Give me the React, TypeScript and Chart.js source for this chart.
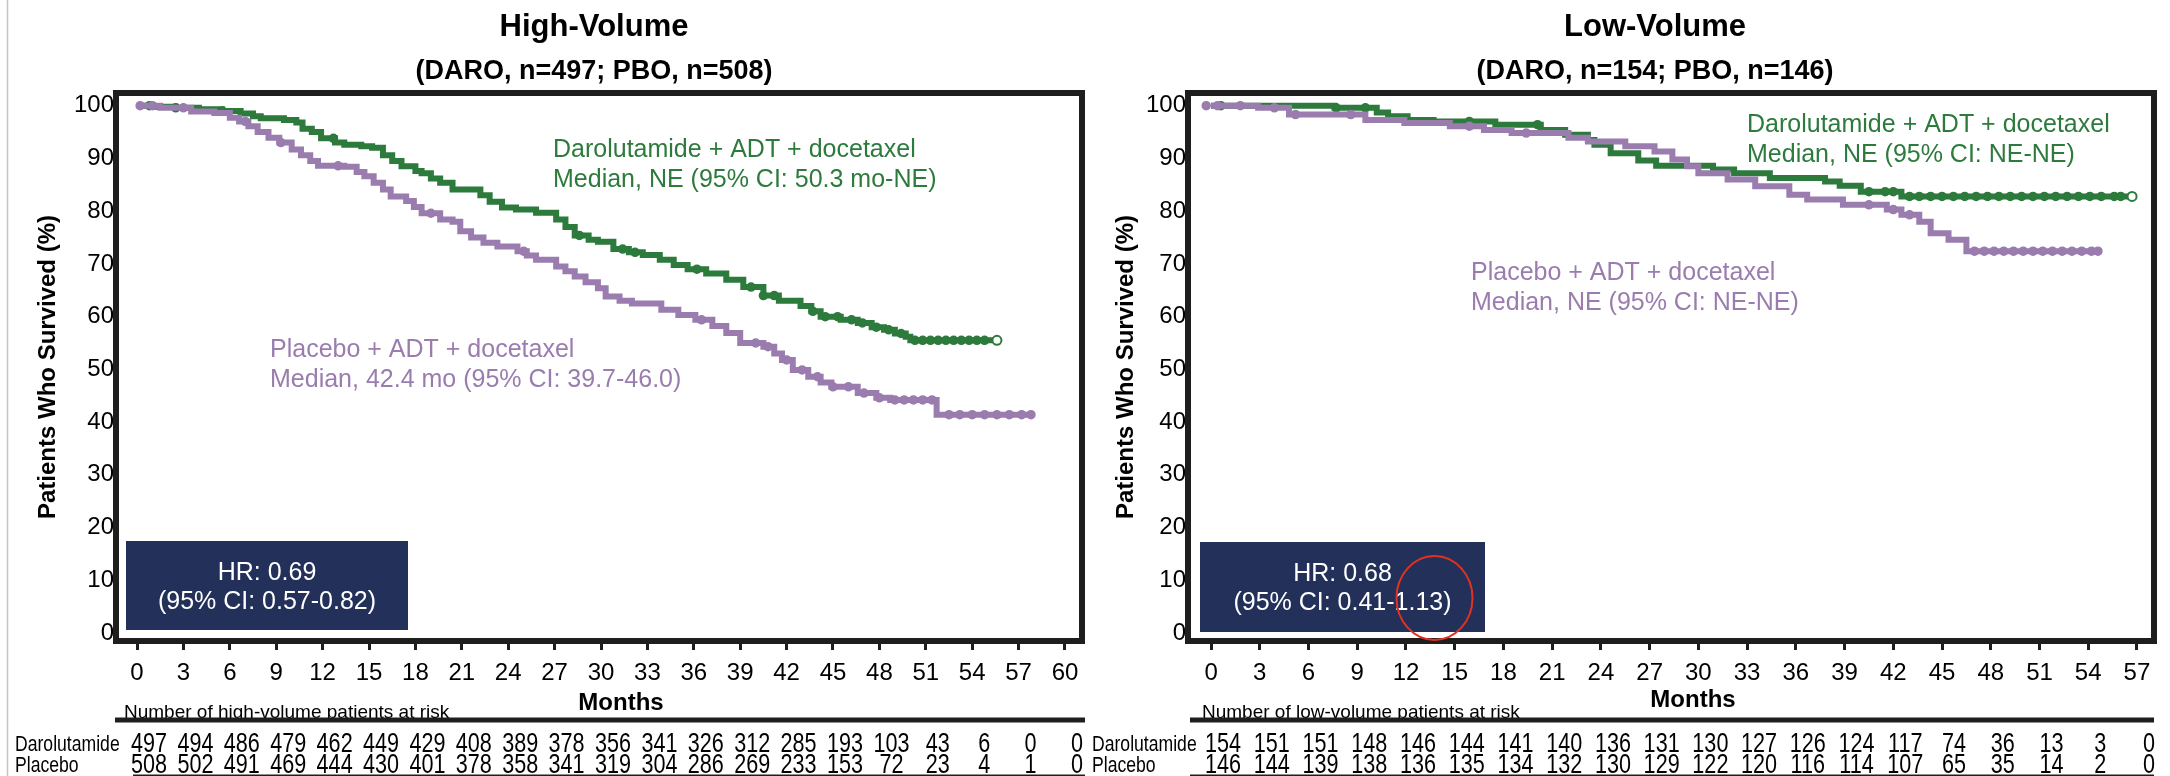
import React, { useEffect, useRef } from 'react';
import { Chart, registerables } from 'chart.js';

Chart.register(...registerables);

// ---------- DATA ----------
const hvMonthTicks = [0, 3, 6, 9, 12, 15, 18, 21, 24, 27, 30, 33, 36, 39, 42, 45, 48, 51, 54, 57, 60];
const lvMonthTicks = [0, 3, 6, 9, 12, 15, 18, 21, 24, 27, 30, 33, 36, 39, 42, 45, 48, 51, 54, 57];
const survivalTicks = [0, 10, 20, 30, 40, 50, 60, 70, 80, 90, 100];

// High-volume, darolutamide (KM step breakpoints: month, % surviving)
const hvDaroMonths = [0, 1.0, 2.5, 4.0, 5.5, 6.7, 7.5, 8.0, 9.5, 10.3, 10.7, 11.3, 11.9, 12.8, 13.4, 14.5, 15.2, 15.9, 16.5, 17.1, 18.0, 18.4, 19.0, 19.6, 20.4, 22.2, 22.8, 23.6, 24.5, 25.8, 27.1, 27.7, 28.3, 29.2, 29.8, 30.8, 31.8, 32.7, 33.8, 34.7, 35.6, 36.8, 38.1, 39.2, 40.5, 41.5, 42.9, 43.6, 44.2, 45.5, 46.6, 47.5, 48.3, 49.0, 49.7, 50.0, 55.6];
const hvDaroSurv = [100, 99.8, 99.6, 99.3, 99.0, 98.5, 98.0, 97.6, 97.3, 96.8, 95.6, 95.0, 93.8, 93.0, 92.6, 92.3, 92.0, 90.6, 89.5, 88.5, 87.6, 87.2, 86.2, 85.4, 84.1, 83.0, 81.8, 80.7, 80.3, 79.7, 78.4, 77.0, 75.4, 74.6, 74.2, 72.8, 72.2, 71.7, 70.8, 69.8, 69.0, 68.2, 67.0, 65.6, 64.0, 63.0, 62.0, 61.0, 60.0, 59.4, 58.8, 58.0, 57.5, 56.8, 56.2, 55.5, 55.5];
const hvDaroCensored = [0.8, 2.5, 5.5, 12.7, 28.6, 31.4, 32.2, 36.2, 39.7, 40.5, 41.2, 43.7, 44.5, 45.3, 46.2, 46.9, 47.8, 48.6, 49.4, 50.3, 50.8, 51.3, 51.8, 52.3, 52.8, 53.3, 53.8, 54.3, 54.8];

// High-volume, placebo
const hvPboMonths = [0, 1.5, 3.5, 5.0, 6.0, 6.6, 7.2, 7.8, 8.5, 9.2, 10.0, 10.6, 11.2, 11.7, 13.4, 14.2, 14.7, 15.3, 15.9, 16.4, 17.4, 17.9, 18.4, 19.6, 20.4, 20.9, 21.6, 22.4, 23.3, 24.6, 25.2, 25.8, 27.1, 27.7, 28.3, 29.0, 29.8, 30.3, 31.2, 32.0, 33.9, 35.0, 36.1, 37.2, 38.1, 39.0, 40.5, 41.2, 41.7, 42.4, 43.4, 44.2, 44.9, 46.6, 47.8, 48.7, 51.7, 57.8];
const hvPboSurv = [100, 99.6, 98.9, 98.6, 97.7, 97.0, 96.1, 95.0, 93.9, 93.0, 91.7, 90.6, 89.5, 88.6, 88.4, 87.4, 86.6, 85.4, 84.1, 82.8, 81.9, 80.8, 79.6, 78.4, 78.0, 76.2, 75.0, 74.0, 73.3, 72.4, 71.6, 70.8, 69.5, 68.6, 67.6, 66.5, 65.4, 63.8, 63.0, 62.5, 61.3, 60.3, 59.4, 58.2, 56.9, 55.0, 54.3, 53.0, 51.8, 49.9, 48.6, 47.5, 46.7, 45.5, 44.6, 44.2, 41.4, 41.4];
const hvPboCensored = [0.2, 1.0, 3.0, 7.0, 9.3, 13.0, 19.0, 25.0, 36.5, 40.0, 40.8, 42.0, 43.0, 44.0, 45.0, 46.0, 47.0, 48.0, 49.0, 49.6, 50.2, 50.8, 51.4, 52.5, 53.2, 54.0, 54.8, 55.6, 56.4, 57.2, 57.8];

// Low-volume, darolutamide
const lvDaroMonths = [0, 7.6, 10.2, 10.9, 12.1, 13.7, 17.5, 20.3, 21.8, 23.2, 23.6, 24.6, 26.3, 27.4, 30.9, 32.2, 34.4, 37.8, 38.7, 40.0, 42.5, 56.7];
const lvDaroSurv = [100, 99.6, 98.7, 98.0, 97.3, 97.0, 96.4, 95.4, 94.5, 93.5, 92.6, 91.0, 89.6, 88.6, 87.9, 87.2, 86.3, 85.6, 84.8, 83.7, 82.8, 82.8];
const lvDaroCensored = [0.6, 7.7, 9.5, 15.9, 20.1, 40.5, 41.5, 42.0, 43.0, 43.6, 44.3, 45.0, 45.7, 46.4, 47.1, 47.8, 48.5, 49.2, 49.9, 50.6, 51.3, 52.0, 52.7, 53.4, 54.1, 54.8, 55.6, 56.0];

// Low-volume, placebo
const lvPboMonths = [0, 2.9, 4.8, 9.5, 11.9, 14.7, 16.8, 18.5, 22.0, 23.2, 25.5, 27.3, 28.4, 29.3, 30.0, 31.8, 33.5, 35.6, 36.7, 38.9, 41.6, 42.5, 43.6, 44.3, 45.4, 46.5, 54.6];
const lvPboSurv = [100, 99.6, 98.3, 97.3, 96.7, 96.1, 95.4, 94.8, 93.9, 93.2, 92.3, 91.3, 89.8, 88.5, 87.2, 86.0, 84.7, 83.1, 82.2, 81.2, 80.3, 79.3, 78.0, 75.8, 74.6, 72.4, 72.4];
const lvPboCensored = [-0.3, 0.4, 1.8, 3.9, 5.2, 8.6, 15.9, 19.4, 40.5, 42.0, 43.0, 47.0, 47.6, 48.2, 48.8, 49.4, 50.0, 50.6, 51.2, 51.8, 52.4, 53.0, 53.6, 54.2, 54.6];

// Numbers at risk
const hvDaroAtRisk = [497, 494, 486, 479, 462, 449, 429, 408, 389, 378, 356, 341, 326, 312, 285, 193, 103, 43, 6, 0, 0];
const hvPboAtRisk = [508, 502, 491, 469, 444, 430, 401, 378, 358, 341, 319, 304, 286, 269, 233, 153, 72, 23, 4, 1, 0];
const lvDaroAtRisk = [154, 151, 151, 148, 146, 144, 141, 140, 136, 131, 130, 127, 126, 124, 117, 74, 36, 13, 3, 0];
const lvPboAtRisk = [146, 144, 139, 138, 136, 135, 134, 132, 130, 129, 122, 120, 116, 114, 107, 65, 35, 14, 2, 0];

// ---------- STYLE ----------
const GREEN = '#2d7a3d';
const PURPLE = '#9a7caf';
const NAVY = '#22305a';
const FRAME = '#1e1e1e';
const SANS = '"Liberation Sans", Arial, sans-serif';

function survAt(months: number[], surv: number[], t: number) {
  let v = surv[0];
  for (let i = 0; i < months.length; i++) {
    if (months[i] <= t) v = surv[i];
  }
  return v;
}

const pts = (m: number[], s: number[]) => m.map((t, i) => ({ x: t, y: s[i] }));

function squeezed(ctx: CanvasRenderingContext2D, text: string, x: number, y: number, sx: number, align: CanvasTextAlign) {
  ctx.save();
  ctx.translate(x, y);
  ctx.scale(sx, 1);
  ctx.textAlign = align;
  ctx.fillText(text, 0, 0);
  ctx.restore();
}

interface Panel {
  width: number;
  left: number;
  rightPad: number;
  xMin: number;
  xMax: number;
  xTicks: number[];
  title: string;
  subtitle: string;
  titleX: number;
  daroM: number[]; daroS: number[]; daroC: number[];
  pboM: number[]; pboS: number[]; pboC: number[];
  daroRisk: number[]; pboRisk: number[];
  greenText: string[]; greenX: number; greenY: number;
  purpleText: string[]; purpleX: number; purpleY: number;
  hr: string[]; hrBox: [number, number, number, number];
  yTitleX: number;
  monthsX: number; monthsY: number;
  riskTitle: string; riskTitleX: number;
  riskLineX: [number, number];
  bottomLineX: [number, number];
  rowLabelX: number;
  grayLine: boolean;
  ellipse?: [number, number, number, number];
}

const HV: Panel = {
  width: 1090, left: 116, rightPad: 8, xMin: -1.36, xMax: 61.1, xTicks: hvMonthTicks,
  title: 'High-Volume', subtitle: '(DARO, n=497; PBO, n=508)', titleX: 594,
  daroM: hvDaroMonths, daroS: hvDaroSurv, daroC: hvDaroCensored,
  pboM: hvPboMonths, pboS: hvPboSurv, pboC: hvPboCensored,
  daroRisk: hvDaroAtRisk, pboRisk: hvPboAtRisk,
  greenText: ['Darolutamide + ADT + docetaxel', 'Median, NE (95% CI: 50.3 mo-NE)'], greenX: 553, greenY: 150,
  purpleText: ['Placebo + ADT + docetaxel', 'Median, 42.4 mo (95% CI: 39.7-46.0)'], purpleX: 270, purpleY: 350,
  hr: ['HR: 0.69', '(95% CI: 0.57-0.82)'], hrBox: [126, 541, 282, 89],
  yTitleX: 48, monthsX: 621, monthsY: 703,
  riskTitle: 'Number of high-volume patients at risk', riskTitleX: 124,
  riskLineX: [115, 1085], bottomLineX: [133, 1085], rowLabelX: 15,
  grayLine: true,
};

const LV: Panel = {
  width: 1080, left: 98, rightPad: 16, xMin: -1.42, xMax: 58.05, xTicks: lvMonthTicks,
  title: 'Low-Volume', subtitle: '(DARO, n=154; PBO, n=146)', titleX: 565,
  daroM: lvDaroMonths, daroS: lvDaroSurv, daroC: lvDaroCensored,
  pboM: lvPboMonths, pboS: lvPboSurv, pboC: lvPboCensored,
  daroRisk: lvDaroAtRisk, pboRisk: lvPboAtRisk,
  greenText: ['Darolutamide + ADT + docetaxel', 'Median, NE (95% CI: NE-NE)'], greenX: 657, greenY: 125,
  purpleText: ['Placebo + ADT + docetaxel', 'Median, NE (95% CI: NE-NE)'], purpleX: 381, purpleY: 273,
  hr: ['HR: 0.68', '(95% CI: 0.41-1.13)'], hrBox: [110, 542, 285, 90],
  yTitleX: 36, monthsX: 603, monthsY: 700,
  riskTitle: 'Number of low-volume patients at risk', riskTitleX: 112,
  riskLineX: [100, 1064], bottomLineX: [100, 1064], rowLabelX: 2,
  grayLine: false,
  ellipse: [344.5, 598, 38, 42],
};

function makePlugin(p: Panel) {
  return {
    id: 'kmDeco',
    beforeDraw(chart: any) {
      const { ctx, width, height } = chart;
      ctx.save();
      ctx.fillStyle = '#ffffff';
      ctx.fillRect(0, 0, width, height);
      ctx.restore();
    },
    afterDraw(chart: any) {
      const { ctx, chartArea: a } = chart;
      const x = chart.scales.x;
      ctx.save();
      // frame
      ctx.strokeStyle = FRAME;
      ctx.lineWidth = 6;
      ctx.strokeRect(a.left, a.top, a.right - a.left, a.bottom - a.top);

      if (p.grayLine) {
        ctx.strokeStyle = '#c4c4c4';
        ctx.lineWidth = 1.5;
        ctx.beginPath();
        ctx.moveTo(7.5, 0);
        ctx.lineTo(7.5, 776);
        ctx.stroke();
      }

      // titles
      ctx.fillStyle = '#000';
      ctx.textAlign = 'center';
      ctx.textBaseline = 'middle';
      ctx.font = `bold 31px ${SANS}`;
      ctx.fillText(p.title, p.titleX, 27);
      ctx.font = `bold 27px ${SANS}`;
      ctx.fillText(p.subtitle, p.titleX, 72);

      // y axis title
      ctx.save();
      ctx.translate(p.yTitleX, (a.top + a.bottom) / 2);
      ctx.rotate(-Math.PI / 2);
      ctx.font = `bold 24px ${SANS}`;
      ctx.fillText('Patients Who Survived (%)', 0, 0);
      ctx.restore();

      // curve annotations
      ctx.textAlign = 'left';
      ctx.font = `25px ${SANS}`;
      ctx.fillStyle = GREEN;
      p.greenText.forEach((t, i) => ctx.fillText(t, p.greenX, p.greenY + i * 30));
      ctx.fillStyle = PURPLE;
      p.purpleText.forEach((t, i) => ctx.fillText(t, p.purpleX, p.purpleY + i * 30));

      // HR box
      const [bx, by, bw, bh] = p.hrBox;
      ctx.fillStyle = NAVY;
      ctx.fillRect(bx, by, bw, bh);
      ctx.fillStyle = '#fff';
      ctx.textAlign = 'center';
      ctx.font = `25px ${SANS}`;
      ctx.fillText(p.hr[0], bx + bw / 2, by + 32);
      ctx.fillText(p.hr[1], bx + bw / 2, by + 61);

      if (p.ellipse) {
        const [ex, ey, rx, ry] = p.ellipse;
        ctx.strokeStyle = '#e2321f';
        ctx.lineWidth = 2;
        ctx.beginPath();
        ctx.ellipse(ex, ey, rx, ry, 0, 0, Math.PI * 2);
        ctx.stroke();
      }

      // x axis title
      ctx.fillStyle = '#000';
      ctx.font = `bold 24px ${SANS}`;
      ctx.fillText('Months', p.monthsX, p.monthsY);

      // at-risk table
      ctx.textAlign = 'left';
      ctx.textBaseline = 'alphabetic';
      ctx.font = `19px ${SANS}`;
      ctx.fillText(p.riskTitle, p.riskTitleX, 718);
      ctx.strokeStyle = FRAME;
      ctx.lineWidth = 5;
      ctx.beginPath();
      ctx.moveTo(p.riskLineX[0], 720);
      ctx.lineTo(p.riskLineX[1], 720);
      ctx.stroke();

      ctx.textBaseline = 'middle';
      ctx.font = `22px ${SANS}`;
      squeezed(ctx, 'Darolutamide', p.rowLabelX, 745, 0.8, 'left');
      squeezed(ctx, 'Placebo', p.rowLabelX, 766, 0.8, 'left');
      ctx.font = `27px ${SANS}`;
      p.xTicks.forEach((t, i) => {
        const px = x.getPixelForValue(t) + 12;
        squeezed(ctx, String(p.daroRisk[i]), px, 745, 0.8, 'center');
        squeezed(ctx, String(p.pboRisk[i]), px, 766, 0.8, 'center');
      });
      ctx.lineWidth = 3;
      ctx.beginPath();
      ctx.moveTo(p.bottomLineX[0], 776);
      ctx.lineTo(p.bottomLineX[1], 776);
      ctx.stroke();
      ctx.restore();
    },
  };
}

function buildChart(canvas: HTMLCanvasElement, p: Panel) {
  const censor = (m: number[], s: number[], c: number[]) => c.map((t) => ({ x: t, y: survAt(m, s, t) }));
  const daroLast = p.daroM.length - 1;
  return new Chart(canvas, {
    type: 'line',
    data: {
      datasets: [
        {
          label: 'Placebo censored',
          data: censor(p.pboM, p.pboS, p.pboC),
          showLine: false,
          pointRadius: 4,
          pointBackgroundColor: PURPLE,
          pointBorderColor: PURPLE,
          pointBorderWidth: 1.5,
        },
        {
          label: 'Placebo + ADT + docetaxel',
          data: pts(p.pboM, p.pboS),
          stepped: true,
          borderColor: PURPLE,
          borderWidth: 6,
          pointRadius: 0,
          fill: false,
        },
        {
          label: 'Darolutamide end',
          data: [{ x: p.daroM[daroLast], y: p.daroS[daroLast] }],
          showLine: false,
          pointRadius: 4.5,
          pointBackgroundColor: '#fff',
          pointBorderColor: GREEN,
          pointBorderWidth: 2,
        },
        {
          label: 'Darolutamide censored',
          data: censor(p.daroM, p.daroS, p.daroC),
          showLine: false,
          pointRadius: 4,
          pointBackgroundColor: GREEN,
          pointBorderColor: GREEN,
          pointBorderWidth: 1.5,
        },
        {
          label: 'Darolutamide + ADT + docetaxel',
          data: pts(p.daroM, p.daroS),
          stepped: true,
          borderColor: GREEN,
          borderWidth: 6,
          pointRadius: 0,
          fill: false,
        },
      ],
    },
    options: {
      responsive: false,
      animation: false,
      devicePixelRatio: 1,
      layout: { padding: { top: 93, right: p.rightPad, bottom: 0, left: 0 } },
      plugins: { legend: { display: false }, tooltip: { enabled: false }, title: { display: false } },
      scales: {
        x: {
          type: 'linear',
          min: p.xMin,
          max: p.xMax,
          afterBuildTicks: (s: any) => { s.ticks = p.xTicks.map((v) => ({ value: v })); },
          afterFit: (s: any) => { s.height = 135; },
          border: { display: false },
          grid: { display: true, drawOnChartArea: false, drawTicks: true, tickLength: 9, tickWidth: 3, tickColor: FRAME, color: FRAME },
          ticks: { autoSkip: false, maxRotation: 0, minRotation: 0, padding: 9, color: '#000', font: { family: SANS, size: 24 } },
        },
        y: {
          type: 'linear',
          min: -1.5,
          max: 102.4,
          afterBuildTicks: (s: any) => { s.ticks = survivalTicks.map((v) => ({ value: v })); },
          afterFit: (s: any) => { s.width = p.left; },
          border: { display: false },
          grid: { display: false, drawTicks: false },
          ticks: { padding: 2, color: '#000', font: { family: SANS, size: 24 } },
        },
      },
    } as any,
    plugins: [makePlugin(p)],
  });
}

export default function App() {
  const leftRef = useRef<HTMLCanvasElement>(null);
  const rightRef = useRef<HTMLCanvasElement>(null);
  useEffect(() => {
    const c1 = buildChart(leftRef.current as HTMLCanvasElement, HV);
    const c2 = buildChart(rightRef.current as HTMLCanvasElement, LV);
    return () => { c1.destroy(); c2.destroy(); };
  }, []);
  return (
    <div style={{ position: 'fixed', left: 0, top: 0, width: 2170, height: 776, background: '#fff', overflow: 'hidden' }}>
      <canvas ref={leftRef} width={1090} height={776} style={{ position: 'absolute', left: 0, top: 0 }} />
      <canvas ref={rightRef} width={1080} height={776} style={{ position: 'absolute', left: 1090, top: 0 }} />
    </div>
  );
}
